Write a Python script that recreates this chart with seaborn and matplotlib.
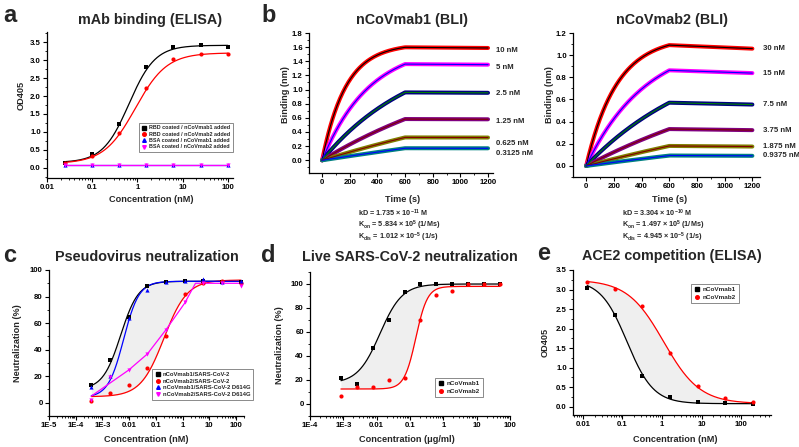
import numpy as np
import pandas as pd
import matplotlib
matplotlib.use("Agg")
import matplotlib.pyplot as plt
import seaborn as sns
from matplotlib.ticker import AutoMinorLocator, LogLocator, NullFormatter
from matplotlib.lines import Line2D

sns.set_theme(style="ticks")
plt.rcParams['font.family'] = ['Liberation Sans', 'DejaVu Sans']
plt.rcParams['font.weight'] = 'bold'
plt.rcParams['mathtext.fontset'] = 'custom'
plt.rcParams['mathtext.rm'] = 'Liberation Sans:bold'
plt.rcParams['mathtext.it'] = 'Liberation Sans:bold'
plt.rcParams['mathtext.bf'] = 'Liberation Sans:bold'
plt.rcParams['mathtext.default'] = 'rm'

# ---------------- data ----------------
# a: mAb binding ELISA
a_conc = [0.0244, 0.0977, 0.39, 1.5625, 6.25, 25, 100]
a_rbd_mab1 = [0.15, 0.38, 1.22, 2.80, 3.37, 3.43, 3.35]
a_rbd_mab2 = [0.13, 0.33, 0.97, 2.23, 3.02, 3.16, 3.16]
a_bsa_mab1 = [0.07, 0.07, 0.07, 0.07, 0.07, 0.07, 0.07]
a_bsa_mab2 = [0.07, 0.07, 0.07, 0.07, 0.07, 0.07, 0.07]
a_labels = ["RBD coated / nCoVmab1 added", "RBD coated / nCoVmab2 added",
            "BSA coated / nCoVmab1 added", "BSA coated / nCoVmab2 added"]
# 4PL fit params: bottom, top, EC50, hill
a_fit_mab1 = [0.15, 3.41, 0.65, 1.5]
a_fit_mab2 = [0.12, 3.20, 0.90, 1.25]

# b: BLI kinetics
b1_conc_nM = [10, 5, 2.5, 1.25, 0.625, 0.3125]
b1_labels = ["10 nM", "5 nM", "2.5 nM", "1.25 nM", "0.625 nM", "0.3125 nM"]
b1_kon, b1_koff, b1_rmax = 5.834e5, 1.012e-5, 1.65
b2_conc_nM = [30, 15, 7.5, 3.75, 1.875, 0.9375]
b2_labels = ["30 nM", "15 nM", "7.5 nM", "3.75 nM", "1.875 nM", "0.9375 nM"]
b2_kon, b2_koff, b2_rmax = 1.497e5, 4.945e-5, 1.18
bli_assoc_end = 600
bli_end = 1200

# c: pseudovirus neutralization
c_conc = [0.000384, 0.00192, 0.0096, 0.048, 0.24, 1.2, 6, 30, 150]
c_mab1_wt = [13, 32.5, 64.5, 88, 91, 91.5, 92, 91, 91]
c_mab2_wt = [1, 7.5, 13, 26.5, 50, 82, 90, 92, 90]
c_mab1_d614g = [12, 20.5, 64, 85, 91, 91.5, 93, 91, 91.5]
c_mab2_d614g = [2, 19.5, 24.5, 37, 55, 76, 90, 90.5, 88]
c_labels = ["nCoVmab1/SARS-CoV-2", "nCoVmab2/SARS-CoV-2",
            "nCoVmab1/SARS-CoV-2 D614G", "nCoVmab2/SARS-CoV-2 D614G"]
c_fit_mab1_wt = [10, 91.5, 0.0048, 1.3]
c_fit_mab2_wt = [4.5, 92.5, 0.20, 1.0]
c_fit_mab1_d614g = [4, 91.5, 0.0062, 1.5]
c_fit_mab2_d614g_x = [0.000384, 0.0096, 0.048, 0.24, 1.2, 3.05, 150]
c_fit_mab2_d614g_y = [5, 24.6, 36.7, 55, 75, 90, 90]

# d: live virus neutralization
d_conc = [0.000847, 0.00254, 0.00762, 0.0229, 0.0686, 0.206, 0.617, 1.85, 5.56, 16.7, 50]
d_mab1 = [22, 17, 47, 70, 93.5, 100, 100, 100, 100, 100, 100]
d_mab2 = [7, 14, 14, 20, 22, 70, 90.5, 94, 100, 100, 100]
d_labels = ["nCoVmab1", "nCoVmab2"]
d_fit_mab1 = [17, 100, 0.0125, 1.3]
d_fit_mab2 = [12.5, 98, 0.15, 2.5]

# e: ACE2 competition
e_conc = [0.0128, 0.064, 0.32, 1.6, 8, 40, 200]
e_mab1 = [3.03, 2.36, 0.78, 0.25, 0.13, 0.10, 0.08]
e_mab2 = [3.19, 3.02, 2.58, 1.38, 0.54, 0.23, 0.12]
e_labels = ["nCoVmab1", "nCoVmab2"]
e_fit_mab1 = [0.08, 3.25, 0.13, 1.3]
e_fit_mab2 = [0.08, 3.25, 1.10, 0.95]

# ---------------- helpers ----------------
W, H = 799, 447
fig = plt.figure(figsize=(W / 100, H / 100), dpi=100)
fig.patch.set_facecolor("white")


def make_ax(l, r, t, b, logx=False):
    ax = fig.add_axes([l / W, 1 - b / H, (r - l) / W, (b - t) / H])
    if logx:
        ax.set_xscale("log")
    return ax


def px(x, y):
    return x / W, 1 - y / H


def style(ax, logx=False):
    ax.set_facecolor("white")
    for s in ["top", "right"]:
        ax.spines[s].set_visible(False)
    for s in ["left", "bottom"]:
        ax.spines[s].set_linewidth(0.9)
        ax.spines[s].set_color("black")
    ax.tick_params(which="major", direction="out", length=3, width=0.8,
                   labelsize=5.6, pad=1.5, colors="black")
    ax.tick_params(which="minor", direction="out", length=1.6, width=0.6, colors="black")
    ax.yaxis.set_minor_locator(AutoMinorLocator(2))
    if logx:
        ax.xaxis.set_minor_locator(LogLocator(base=10, subs=np.arange(2, 10), numticks=30))
        ax.xaxis.set_minor_formatter(NullFormatter())
    else:
        ax.xaxis.set_minor_locator(AutoMinorLocator(2))
    for lab in ax.get_xticklabels() + ax.get_yticklabels():
        lab.set_fontweight("bold")


def set_labels(ax, xlabel, ylabel, xlab_pos, ylab_pos):
    ax.set_xlabel(xlabel, fontsize=6.6, fontweight="bold")
    ax.set_ylabel(ylabel, fontsize=6.6, fontweight="bold")
    ax.xaxis.set_label_coords(*px(*xlab_pos), transform=fig.transFigure)
    ax.yaxis.set_label_coords(*px(*ylab_pos), transform=fig.transFigure)
    ax.xaxis.label.set_va("center")
    ax.yaxis.label.set_va("center")


def title(text, x, y):
    fig.text(*px(x, y), text, fontsize=10.4, fontweight="bold", ha="center", va="center")


def letter(text, x, y):
    fig.text(*px(x, y), text, fontsize=17, fontweight="bold", ha="left", va="center")


def fpl_up(x, p):
    b, t, ec, h = p
    x = np.asarray(x, float)
    return b + (t - b) / (1 + (ec / x) ** h)


def fpl_down(x, p):
    b, t, ic, h = p
    x = np.asarray(x, float)
    return b + (t - b) / (1 + (x / ic) ** h)


def line(ax, x, y, color, lw=0.9, z=2):
    sns.lineplot(x=np.asarray(x), y=np.asarray(y), ax=ax, color=color, linewidth=lw,
                 estimator=None, sort=False, legend=False, zorder=z)


def pts(ax, x, y, color, marker, s=9):
    sns.scatterplot(x=x, y=y, ax=ax, color=color, marker=marker, s=s, linewidth=0,
                    legend=False, zorder=4)


def legend(ax, labels, colors, markers, x, y, fs=4.2, ms=2.6, spacing=0.3):
    handles = [Line2D([], [], linestyle="none", marker=m, color=c, markersize=ms)
               for c, m in zip(colors, markers)]
    lg = ax.legend(handles, labels, loc="upper left", bbox_to_anchor=px(x, y),
                   bbox_transform=fig.transFigure, fontsize=fs, frameon=True,
                   fancybox=False, borderpad=0.45, handletextpad=0.3, handlelength=1.1,
                   labelspacing=spacing, borderaxespad=0)
    lg.get_frame().set_edgecolor("#555555")
    lg.get_frame().set_linewidth(0.6)
    for t in lg.get_texts():
        t.set_fontweight("bold")
    return lg


BLACK, RED, BLUE, MAG = "#000000", "#ff0000", "#0000ff", "#ff00ff"

# ---------------- panel a ----------------
ax = make_ax(47, 233, 32, 178, logx=True)
xx = np.logspace(np.log10(a_conc[0]), np.log10(a_conc[-1]), 200)
line(ax, xx, fpl_up(xx, a_fit_mab1), BLACK)
line(ax, xx, fpl_up(xx, a_fit_mab2), RED)
line(ax, a_conc, a_bsa_mab1, BLUE)
line(ax, a_conc, a_bsa_mab2, MAG)
pts(ax, a_conc, a_rbd_mab1, BLACK, "s")
pts(ax, a_conc, a_rbd_mab2, RED, "o")
pts(ax, a_conc, a_bsa_mab1, BLUE, "^")
pts(ax, a_conc, a_bsa_mab2, MAG, "v")
ax.set_xlim(0.01, 130)
ax.set_ylim(-0.28, 3.78)
ax.set_xticks([0.01, 0.1, 1, 10, 100], ["0.01", "0.1", "1", "10", "100"])
ax.set_yticks(np.arange(0, 3.51, 0.5), [f"{v:.1f}" for v in np.arange(0, 3.51, 0.5)])
style(ax, logx=True)
set_labels(ax, "Concentration (nM)", "OD405", (151, 200), (21, 95))
legend(ax, a_labels, [BLACK, RED, BLUE, MAG], ["s", "o", "^", "v"], 139, 123, fs=3.9,
       spacing=0.25)
title("mAb binding (ELISA)", 150, 20)
letter("a", 3, 15)


# ---------------- panel b ----------------
def bli(t, c_nM, kon, koff, rmax):
    c = c_nM * 1e-9
    kobs = kon * c + koff
    req = rmax * kon * c / kobs
    r_assoc = req * (1 - np.exp(-kobs * np.minimum(t, bli_assoc_end)))
    r600 = req * (1 - np.exp(-kobs * bli_assoc_end))
    return np.where(t <= bli_assoc_end, r_assoc,
                    r600 * np.exp(-koff * (t - bli_assoc_end)))


raw_cols = ["#ff0000", "#ff00ff", "#000080", "#800080", "#808000", "#008080"]
fit_cols = ["#000000", "#0000ff", "#008000", "#800000", "#800000", "#0000ff"]
t = np.linspace(0, bli_end, 241)


def bli_panel(box, concs, labels, kon, koff, rmax, xlim, ylim, yticks, lab_off, ttl, tx,
              xlab, ylab, kin_text, kin_x):
    ax = make_ax(*box)
    for i, c in enumerate(concs):
        r = bli(t, c, kon, koff, rmax)
        line(ax, t, r, raw_cols[i], lw=2.9, z=2 + i * 0.01)
        line(ax, t, r, fit_cols[i], lw=0.8, z=3)
        ax.text(1.015, r[-1] + lab_off[i], labels[i], transform=ax.get_yaxis_transform(),
                fontsize=5.6, fontweight="bold", va="center", ha="left", clip_on=False)
    ax.set_xlim(*xlim)
    ax.set_ylim(*ylim)
    ax.set_xticks(np.arange(0, 1201, 200), [str(v) for v in range(0, 1201, 200)])
    ax.set_yticks(yticks, [f"{v:.1f}" for v in yticks])
    style(ax)
    set_labels(ax, "Time (s)", "Binding (nm)", xlab, ylab)
    title(ttl, tx, 20)
    for k, s in enumerate(kin_text):
        fig.text(*px(kin_x, 213 + 12.2 * k), s, fontsize=5.2, fontweight="bold",
                 ha="left", va="center")
    return ax


bli_panel((309, 493, 33, 173), b1_conc_nM, b1_labels, b1_kon, b1_koff, b1_rmax,
          (-95, 1236), (-0.18, 1.8), np.round(np.arange(0, 1.81, 0.2), 1),
          [-0.03, -0.04, -0.01, -0.03, -0.09, -0.07], "nCoVmab1 (BLI)", 412,
          (403, 200), (285, 95),
          [r"kD = 1.735 $\times$ 10$^{-11}$ M",
           r"K$_{on}$ = 5.834 $\times$ 10$^{5}$ (1/Ms)",
           r"K$_{dis}$ = 1.012 $\times$ 10$^{-5}$ (1/s)"], 358)
letter("b", 261, 15)

bli_panel((573, 760, 33, 177), b2_conc_nM, b2_labels, b2_kon, b2_koff, b2_rmax,
          (-95, 1255), (-0.1, 1.2), np.round(np.arange(0, 1.21, 0.2), 1),
          [0, 0, 0, 0, 0, 0], "nCoVmab2 (BLI)", 672,
          (670, 200), (549, 95),
          [r"kD = 3.304 $\times$ 10$^{-10}$ M",
           r"K$_{on}$ = 1.497 $\times$ 10$^{5}$ (1/Ms)",
           r"K$_{dis}$ = 4.945 $\times$ 10$^{-5}$ (1/s)"], 622)

# ---------------- panel c ----------------
ax = make_ax(49, 244, 270, 416, logx=True)
xx = np.logspace(np.log10(c_conc[0]), np.log10(c_conc[-1]), 300)
y1 = fpl_up(xx, c_fit_mab1_wt)
y2 = fpl_up(xx, c_fit_mab2_wt)
ax.fill_between(xx, y1, y2, color="#efefef", zorder=1, linewidth=0)
line(ax, xx, y1, BLACK)
line(ax, xx, y2, RED)
line(ax, xx, fpl_up(xx, c_fit_mab1_d614g), BLUE)
line(ax, c_fit_mab2_d614g_x, c_fit_mab2_d614g_y, MAG)
pts(ax, c_conc, c_mab1_wt, BLACK, "s")
pts(ax, c_conc, c_mab2_wt, RED, "o")
pts(ax, c_conc, c_mab1_d614g, BLUE, "^")
pts(ax, c_conc, c_mab2_d614g, MAG, "v")
ax.set_xlim(1e-5, 200)
ax.set_ylim(-10, 100)
ax.set_xticks([1e-5, 1e-4, 1e-3, 0.01, 0.1, 1, 10, 100],
              ["1E-5", "1E-4", "1E-3", "0.01", "0.1", "1", "10", "100"])
ax.set_yticks(np.arange(0, 101, 20), [str(v) for v in range(0, 101, 20)])
style(ax, logx=True)
set_labels(ax, "Concentration (nM)", "Neutralization (%)", (146, 440), (18, 343))
legend(ax, c_labels, [BLACK, RED, BLUE, MAG], ["s", "o", "^", "v"], 152, 369, fs=4.2,
       spacing=0.3)
title("Pseudovirus neutralization", 147, 257)
letter("c", 3, 255)

# ---------------- panel d ----------------
ax = make_ax(310, 510, 272, 416, logx=True)
xx = np.logspace(np.log10(d_conc[0]), np.log10(d_conc[-1]), 300)
y1 = fpl_up(xx, d_fit_mab1)
y2 = fpl_up(xx, d_fit_mab2)
ax.fill_between(xx, y1, y2, color="#efefef", zorder=1, linewidth=0)
line(ax, xx, y1, BLACK)
line(ax, xx, y2, RED)
pts(ax, d_conc, d_mab1, BLACK, "s")
pts(ax, d_conc, d_mab2, RED, "o")
ax.set_xlim(1e-4, 100)
ax.set_ylim(-10, 110)
ax.set_xticks([1e-4, 1e-3, 0.01, 0.1, 1, 10, 100],
              ["1E-4", "1E-3", "0.01", "0.1", "1", "10", "100"])
ax.set_yticks(np.arange(0, 101, 20), [str(v) for v in range(0, 101, 20)])
style(ax, logx=True)
set_labels(ax, "Concentration (\u03bcg/ml)", "Neutralization (%)", (407, 440), (279, 345))
legend(ax, d_labels, [BLACK, RED], ["s", "o"], 435, 378, fs=4.6)
title("Live SARS-CoV-2 neutralization", 410, 257)
letter("d", 261, 255)

# ---------------- panel e ----------------
ax = make_ax(573, 771, 270, 415, logx=True)
xx = np.logspace(np.log10(e_conc[0]), np.log10(e_conc[-1]), 300)
y1 = fpl_down(xx, e_fit_mab1)
y2 = fpl_down(xx, e_fit_mab2)
ax.fill_between(xx, y1, y2, color="#efefef", zorder=1, linewidth=0)
line(ax, xx, y1, BLACK)
line(ax, xx, y2, RED)
pts(ax, e_conc, e_mab1, BLACK, "s")
pts(ax, e_conc, e_mab2, RED, "o")
ax.set_xlim(0.0056, 570)
ax.set_ylim(-0.21, 3.5)
ax.set_xticks([0.01, 0.1, 1, 10, 100], ["0.01", "0.1", "1", "10", "100"])
ax.set_yticks(np.arange(0, 3.51, 0.5), [f"{v:.1f}" for v in np.arange(0, 3.51, 0.5)])
style(ax, logx=True)
set_labels(ax, "Concentration (nM)", "OD405", (675, 440), (545, 342))
legend(ax, e_labels, [BLACK, RED], ["s", "o"], 691, 284, fs=4.6)
title("ACE2 competition (ELISA)", 672, 256)
letter("e", 537, 254)

fig.savefig("out.png", dpi=100, facecolor="white")
